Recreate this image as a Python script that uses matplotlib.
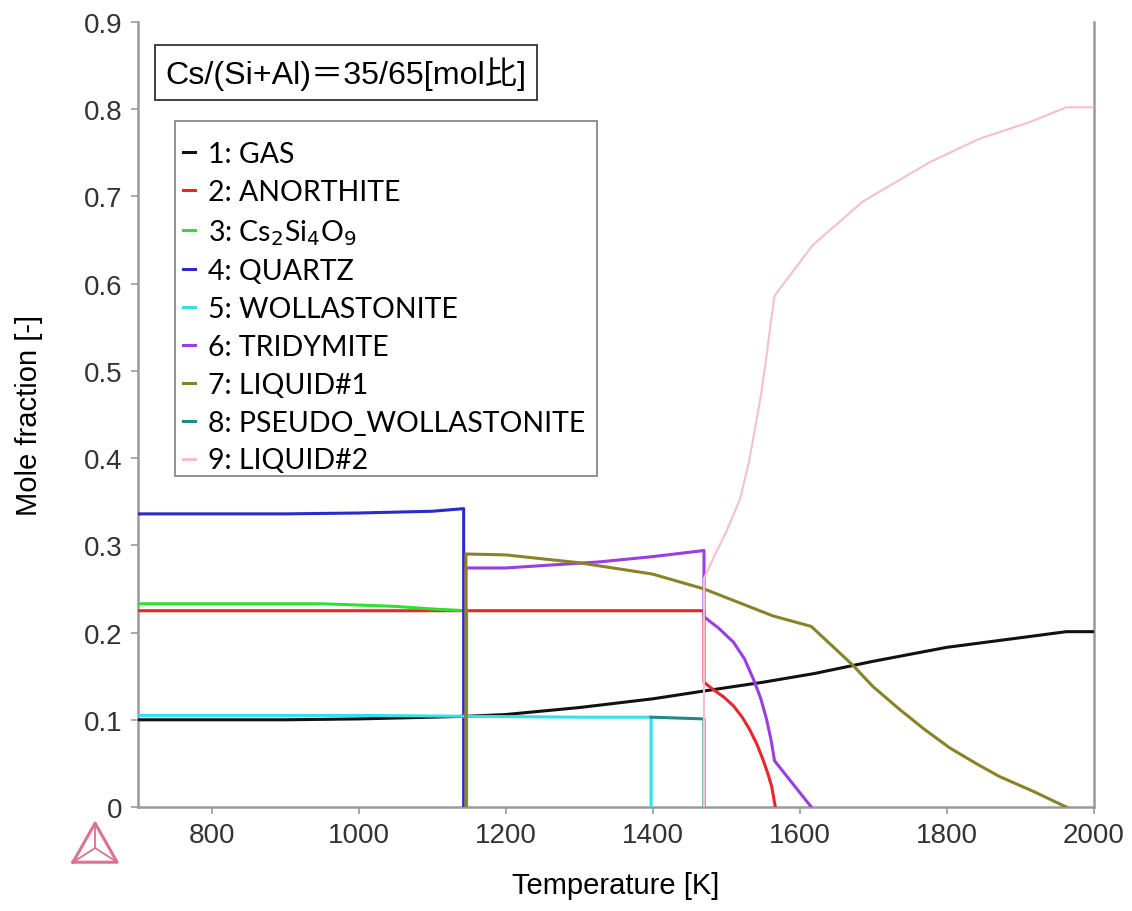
import matplotlib
matplotlib.use("Agg")
import matplotlib.pyplot as plt
from matplotlib.lines import Line2D
from matplotlib.patches import Rectangle

plt.rcParams['font.family'] = ['Liberation Sans', 'DejaVu Sans']

# ---- data (T in K, mole fraction) ----
gas_T = [700, 900, 1000, 1100, 1145, 1200, 1300, 1400, 1470, 1550, 1620, 1700, 1800, 1900, 1963, 2000]
gas_y = [0.100, 0.100, 0.101, 0.103, 0.104, 0.106, 0.114, 0.124, 0.133, 0.143, 0.153, 0.167, 0.183, 0.194, 0.201, 0.201]

anorthite_T = [700, 1000, 1470, 1470, 1482, 1497, 1510, 1522, 1532, 1542, 1550, 1557, 1562, 1567]
anorthite_y = [0.225, 0.225, 0.225, 0.143, 0.135, 0.126, 0.116, 0.103, 0.089, 0.072, 0.055, 0.038, 0.024, 0.0]

cs2si4o9_T = [700, 950, 1050, 1100, 1147, 1147]
cs2si4o9_y = [0.233, 0.233, 0.230, 0.227, 0.225, 0.0]

quartz_T = [700, 900, 1000, 1100, 1143, 1143]
quartz_y = [0.336, 0.336, 0.337, 0.339, 0.342, 0.0]

wollastonite_T = [700, 1000, 1145, 1300, 1398, 1398]
wollastonite_y = [0.105, 0.105, 0.104, 0.103, 0.103, 0.0]

tridymite_T = [1146, 1146, 1200, 1328, 1400, 1470, 1470, 1490, 1510, 1525, 1537, 1547, 1555, 1561, 1566, 1616]
tridymite_y = [0.0, 0.274, 0.274, 0.281, 0.287, 0.294, 0.218, 0.205, 0.189, 0.170, 0.147, 0.125, 0.101, 0.078, 0.053, 0.0]

liquid1_T = [1146, 1146, 1200, 1300, 1400, 1470, 1564, 1616, 1672, 1700, 1736, 1770, 1804, 1840, 1872, 1918, 1963]
liquid1_y = [0.0, 0.290, 0.289, 0.280, 0.267, 0.250, 0.219, 0.207, 0.163, 0.138, 0.112, 0.089, 0.068, 0.050, 0.035, 0.018, 0.0]

pseudo_T = [1398, 1470, 1470]
pseudo_y = [0.103, 0.101, 0.0]

liquid2_T = [1470, 1470, 1482, 1500, 1519, 1531, 1541, 1548, 1554, 1560, 1566, 1618, 1686, 1777, 1845, 1913, 1963, 2000]
liquid2_y = [0.0, 0.262, 0.284, 0.315, 0.353, 0.395, 0.441, 0.475, 0.510, 0.550, 0.586, 0.644, 0.694, 0.739, 0.766, 0.785, 0.802, 0.802]

labels = ["1: GAS", "2: ANORTHITE", "3: Cs$_2$Si$_4$O$_9$", "4: QUARTZ", "5: WOLLASTONITE",
          "6: TRIDYMITE", "7: LIQUID#1", "8: PSEUDO_WOLLASTONITE", "9: LIQUID#2"]
colors = ["#111111", "#e8262a", "#33dd33", "#2b2bc8", "#33e0e8",
          "#9b3de0", "#8a8228", "#1f8a8a", "#f4bfcf"]

series = [(gas_T, gas_y), (anorthite_T, anorthite_y), (cs2si4o9_T, cs2si4o9_y),
          (quartz_T, quartz_y), (wollastonite_T, wollastonite_y), (tridymite_T, tridymite_y),
          (liquid1_T, liquid1_y), (pseudo_T, pseudo_y), (liquid2_T, liquid2_y)]

fig = plt.figure(figsize=(11.32, 9.12), dpi=100)
ax = fig.add_axes([0.122, 0.114, 0.844, 0.861])

draw_order = [8, 4, 7, 1, 2, 5, 6, 3, 0]
for i in draw_order:
    T, y = series[i]
    lw = 1.5 if i == 8 else 2.2
    ax.plot(T, y, color=colors[i], lw=lw, zorder=3 + i * 0.01)

ax.set_xlim(700, 2000)
ax.set_ylim(0, 0.9)
ax.set_xticks([800, 1000, 1200, 1400, 1600, 1800, 2000])
ax.set_yticks([0, 0.1, 0.2, 0.3, 0.4, 0.5, 0.6, 0.7, 0.8, 0.9])
ax.set_yticklabels(["0", "0.1", "0.2", "0.3", "0.4", "0.5", "0.6", "0.7", "0.8", "0.9"])
ax.tick_params(labelsize=20, color="#999999", length=5, width=1.2, labelcolor="#333333", pad=6)

for side in ["left", "right", "bottom"]:
    ax.spines[side].set_color("#9a9a9a")
    ax.spines[side].set_linewidth(1.8)
ax.spines["top"].set_visible(False)

ax.set_xlabel("Temperature [K]", fontsize=21, labelpad=16)
ax.set_ylabel("Mole fraction [-]", fontsize=21, labelpad=30)

# composition box
ax.text(0.029, 0.935, "Cs/(Si+Al)\uff1d35/65[mol\u6bd4]", transform=ax.transAxes,
        fontsize=23.2, va="center", ha="left", family=['Liberation Sans', 'Noto Sans CJK JP'],
        bbox=dict(boxstyle="square,pad=0.33", fc="white", ec="#333333", lw=1.3), zorder=10)

# legend frame drawn separately so its padding can match the reference
ax.add_patch(Rectangle((0.0387, 0.4217), 0.4414, 0.4522, transform=ax.transAxes,
                       fc="white", ec="#888888", lw=1.3, zorder=9))

handles = [Line2D([], [], color=c, lw=2.2) for c in colors]
leg = ax.legend(handles, labels, loc="upper left", bbox_to_anchor=(0.0471, 0.848),
                borderaxespad=0, handlelength=0.42, handletextpad=0.45, labelspacing=0.415,
                borderpad=0, frameon=False,
                prop={'family': ['Lato', 'DejaVu Sans'], 'size': 20.5})
leg.set_zorder(10)

# Thermo-Calc style logo
lx, ly, s = 0.084, 0.073, 0.0195
tri_x = [lx - s, lx + s, lx, lx - s]
tri_y = [ly - s * 1.0, ly - s * 1.0, ly + s * 1.2, ly - s * 1.0]
pink = "#d9738f"
fig.add_artist(Line2D(tri_x, tri_y, transform=fig.transFigure, color=pink, lw=2.2))
cx, cy = lx, ly - s * 0.2
for px, py in zip(tri_x[:3], tri_y[:3]):
    fig.add_artist(Line2D([px, cx], [py, cy], transform=fig.transFigure, color=pink, lw=1.3))

fig.savefig("out.png", dpi=100)
